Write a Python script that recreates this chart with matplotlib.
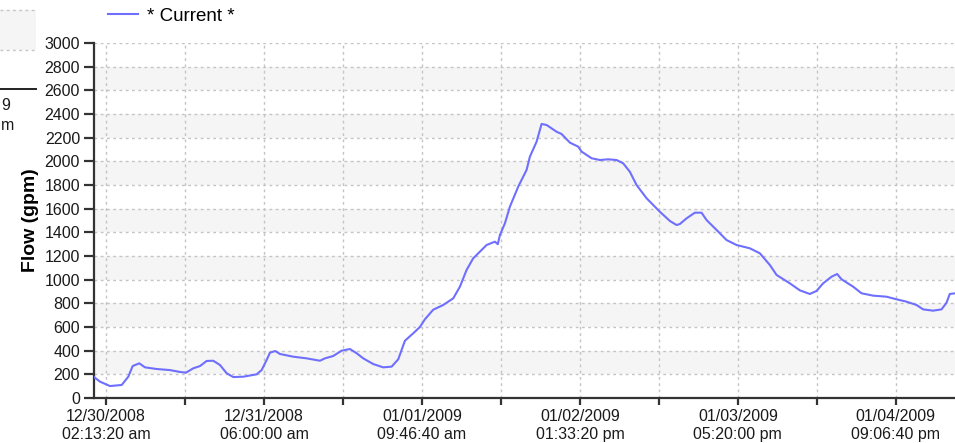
import matplotlib
matplotlib.use('Agg')
import matplotlib.pyplot as plt
import pandas as pd

# hours after 12/30/2008 02:13:20 am, and flow
hours = [-2.05, -1.05, 0.70, 2.76, 3.92, 4.69, 5.85, 6.86, 8.91, 11.25,
         13.01, 14.06, 15.35, 16.53, 17.70, 18.86, 20.04, 21.22, 22.38, 24.14,
         26.49, 27.37, 28.25, 28.83, 29.76, 30.59, 32.93, 35.28, 37.62, 38.50,
         39.96, 41.44, 42.90, 44.08, 45.24, 46.99, 48.75, 50.23, 51.39, 52.57,
         54.03, 55.20, 56.08, 57.54, 59.30, 61.06, 62.24, 63.41, 64.57, 66.93,
         68.39, 68.90, 69.27, 70.15, 71.03, 72.49, 73.96, 74.54, 75.72, 76.60,
         77.48, 79.24, 80.11, 81.58, 83.04, 83.64, 85.39, 86.85, 88.31, 89.79,
         90.95, 92.12, 93.30, 95.06, 97.40, 99.16, 100.33, 100.91, 102.09, 103.55,
         104.73, 105.61, 107.37, 109.12, 110.88, 113.22, 114.98, 116.74, 117.92, 120.25,
         122.01, 123.77, 124.95, 126.11, 127.59, 128.57, 129.35, 131.38, 132.86, 134.90,
         137.26, 139.01, 140.77, 142.53, 143.69, 145.45, 146.93, 147.81, 148.38, 149.40]
flow = [175, 138, 101, 110, 180, 270, 293, 259, 245, 236,
        220, 214, 251, 270, 313, 315, 279, 209, 177, 180,
        200, 236, 321, 383, 397, 372, 349, 335, 315, 335,
        355, 400, 414, 378, 335, 287, 259, 265, 327, 484,
        547, 600, 665, 746, 786, 842, 941, 1082, 1180, 1293,
        1321, 1300, 1377, 1476, 1617, 1786, 1927, 2039, 2166, 2316,
        2307, 2250, 2231, 2158, 2124, 2082, 2026, 2011, 2017, 2011,
        1983, 1912, 1800, 1688, 1574, 1496, 1462, 1470, 1518, 1566,
        1566, 1504, 1420, 1335, 1293, 1265, 1223, 1124, 1040, 969,
        910, 879, 905, 969, 1025, 1048, 1003, 941, 885, 865,
        856, 834, 814, 786, 749, 738, 749, 805, 879, 885]

tick_labels = ['12/30/2008\n02:13:20 am', '12/31/2008\n06:00:00 am',
               '01/01/2009\n09:46:40 am', '01/02/2009\n01:33:20 pm',
               '01/03/2009\n05:20:00 pm', '01/04/2009\n09:06:40 pm']
y_ticks = list(range(0, 3001, 200))

plt.rcParams['font.family'] = ['Liberation Sans', 'DejaVu Sans']

base = pd.Timestamp('2008-12-30 02:13:20')
step = pd.Timedelta(seconds=100000)
times = [base + pd.Timedelta(hours=h) for h in hours]
major = [base + step * k for k in range(len(tick_labels))]
minor = [base + step * (k + 0.5) for k in range(len(tick_labels) - 1)]

fig = plt.figure(figsize=(9.55, 4.43), dpi=100)
ax = fig.add_axes([94 / 955, 45 / 443, 861 / 955, 355 / 443])

# alternating bands
for lo in range(200, 3000, 400):
    ax.axhspan(lo, lo + 200, color='#f5f5f5', zorder=0, lw=0)

ax.plot(times, flow, color='#6f6fff', lw=1.5, label='* Current *', zorder=3)

ax.set_xlim(base - pd.Timedelta(hours=2.11), base + pd.Timedelta(hours=149.3))
ax.set_ylim(0, 3000)
ax.set_yticks(y_ticks)
ax.set_xticks(major)
ax.set_xticklabels(tick_labels)
ax.set_xticks(minor, minor=True)

ax.grid(True, which='both', axis='x', color='#c4c4c4', ls=(0, (2, 2.5)), lw=1, zorder=1)
ax.grid(True, which='major', axis='y', color='#c4c4c4', ls=(0, (2, 2.5)), lw=1, zorder=1)

for s in ['top', 'right']:
    ax.spines[s].set_visible(False)
for s in ['left', 'bottom']:
    ax.spines[s].set_color('#333333')
    ax.spines[s].set_linewidth(1.6)
ax.tick_params(axis='both', which='both', direction='out', color='#333333', width=1.6,
               labelsize=11.5, labelcolor='#1a1a1a')
ax.tick_params(axis='y', length=7, pad=3)
ax.tick_params(axis='x', which='both', length=5, pad=3)

ax.set_ylabel('Flow (gpm)', fontsize=14, fontweight='bold', labelpad=4)

fig.legend(*ax.get_legend_handles_labels(), loc='center left',
           bbox_to_anchor=(108 / 955, 1 - 16 / 443), frameon=False,
           fontsize=13.5, handlelength=1.6, handletextpad=0.5,
           borderaxespad=0, borderpad=0)

# cut-off pieces of the neighbouring chart at the left edge
fig.patches.append(plt.Rectangle((0, 1 - 50 / 443), 36 / 955, 40 / 443,
                                 transform=fig.transFigure, color='#f5f5f5', lw=0))
for yy in [10, 50]:
    fig.add_artist(plt.Line2D([0, 36 / 955], [1 - yy / 443] * 2, color='#c4c4c4',
                              ls=(0, (2, 2.5)), lw=1, transform=fig.transFigure))
fig.add_artist(plt.Line2D([0, 36 / 955], [1 - 89 / 443] * 2, color='#222222', lw=1.4,
                          transform=fig.transFigure))
fig.text(1 / 955, 1 - 105 / 443, '9', ha='left', va='center', fontsize=11.5, color='#1a1a1a')
fig.text(1 / 955, 1 - 126 / 443, 'm', ha='left', va='center', fontsize=11.5, color='#1a1a1a')

fig.savefig('out.png', dpi=100)
